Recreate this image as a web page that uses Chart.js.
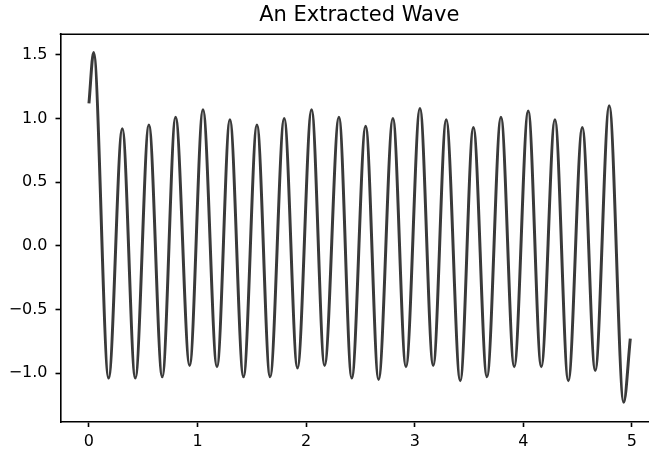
<!DOCTYPE html>
<html>
<head>
<meta charset="utf-8">
<title>An Extracted Wave</title>
<script src="https://cdn.jsdelivr.net/npm/chart.js@4.4.1/dist/chart.umd.min.js"></script>
<style>
  html, body { margin: 0; padding: 0; background: #fff; overflow: hidden; }
  #wrap { width: 658px; height: 454px; }
</style>
</head>
<body>
<div id="wrap"><canvas id="waveChart" width="658" height="454"></canvas></div>
<script>
// turning points of the extracted wave (time in s, amplitude), plus the two end samples
const waveTime = [0.00, 0.043, 0.181, 0.307, 0.427, 0.552, 0.675, 0.798, 0.927, 1.050,
  1.179, 1.298, 1.423, 1.547, 1.668, 1.798, 1.920, 2.050, 2.170, 2.302,
  2.420, 2.548, 2.667, 2.799, 2.919, 3.048, 3.170, 3.290, 3.419, 3.540,
  3.665, 3.794, 3.916, 4.045, 4.165, 4.291, 4.414, 4.543, 4.662, 4.791,
  4.924, 4.985];
const waveAmp = [1.12, 1.52, -1.04, 0.92, -1.04, 0.95, -1.03, 1.01, -0.94, 1.07,
  -0.95, 0.99, -1.03, 0.95, -1.03, 1.00, -0.96, 1.07, -0.94, 1.01,
  -1.04, 0.94, -1.05, 1.00, -0.95, 1.08, -0.94, 0.99, -1.06, 0.93,
  -1.03, 1.01, -0.95, 1.06, -0.95, 0.99, -1.06, 0.93, -0.98, 1.10,
  -1.23, -0.73];

const xTicks = [0, 1, 2, 3, 4, 5];
const yTicks = [-1.0, -0.5, 0.0, 0.5, 1.0, 1.5];

const points = waveTime.map((t, i) => ({ x: t, y: waveAmp[i] }));

// top spine, the library only draws the axis-side borders
const topSpine = {
  id: 'topSpine',
  afterDraw(chart) {
    const { ctx, chartArea } = chart;
    ctx.save();
    ctx.strokeStyle = '#000';
    ctx.lineWidth = 1.6;
    ctx.beginPath();
    ctx.moveTo(chartArea.left - 0.8, chartArea.top);
    ctx.lineTo(chartArea.right, chartArea.top);
    ctx.stroke();
    ctx.restore();
  }
};

const tickFont = { family: 'DejaVu Sans', size: 16 };
const axisGrid = { drawOnChartArea: false, drawTicks: true, tickLength: 5, tickColor: '#000', tickWidth: 1.6 };
const axisBorder = { display: true, color: '#000', width: 1.6 };

new Chart(document.getElementById('waveChart'), {
  type: 'line',
  data: {
    datasets: [{
      data: points,
      borderColor: '#3a3a3a',
      borderWidth: 3,
      pointRadius: 0,
      cubicInterpolationMode: 'monotone',
      fill: false
    }]
  },
  options: {
    responsive: false,
    animation: false,
    devicePixelRatio: 1,
    layout: { padding: 0 },
    plugins: {
      legend: { display: false },
      tooltip: { enabled: false },
      title: {
        display: true,
        text: 'An Extracted Wave',
        fullSize: false,
        color: '#000',
        font: { family: 'DejaVu Sans', size: 21, weight: 'normal' },
        padding: { top: 3, bottom: 6 }
      }
    },
    scales: {
      x: {
        type: 'linear',
        min: -0.262,
        max: 5.24,
        afterBuildTicks: (scale) => { scale.ticks = xTicks.map(v => ({ value: v })); },
        afterFit: (scale) => { scale.height = 32; },
        grid: axisGrid,
        border: axisBorder,
        ticks: { color: '#000', font: tickFont, padding: 5, maxRotation: 0,
          callback: (v) => String(v) }
      },
      y: {
        min: -1.385,
        max: 1.663,
        afterBuildTicks: (scale) => { scale.ticks = yTicks.map(v => ({ value: v })); },
        afterFit: (scale) => { scale.width = 60.5; },
        grid: axisGrid,
        border: axisBorder,
        ticks: { color: '#000', font: tickFont, padding: 8,
          callback: (v) => v.toFixed(1).replace('-', '\u2212') }
      }
    }
  },
  plugins: [topSpine]
});
</script>
</body>
</html>
